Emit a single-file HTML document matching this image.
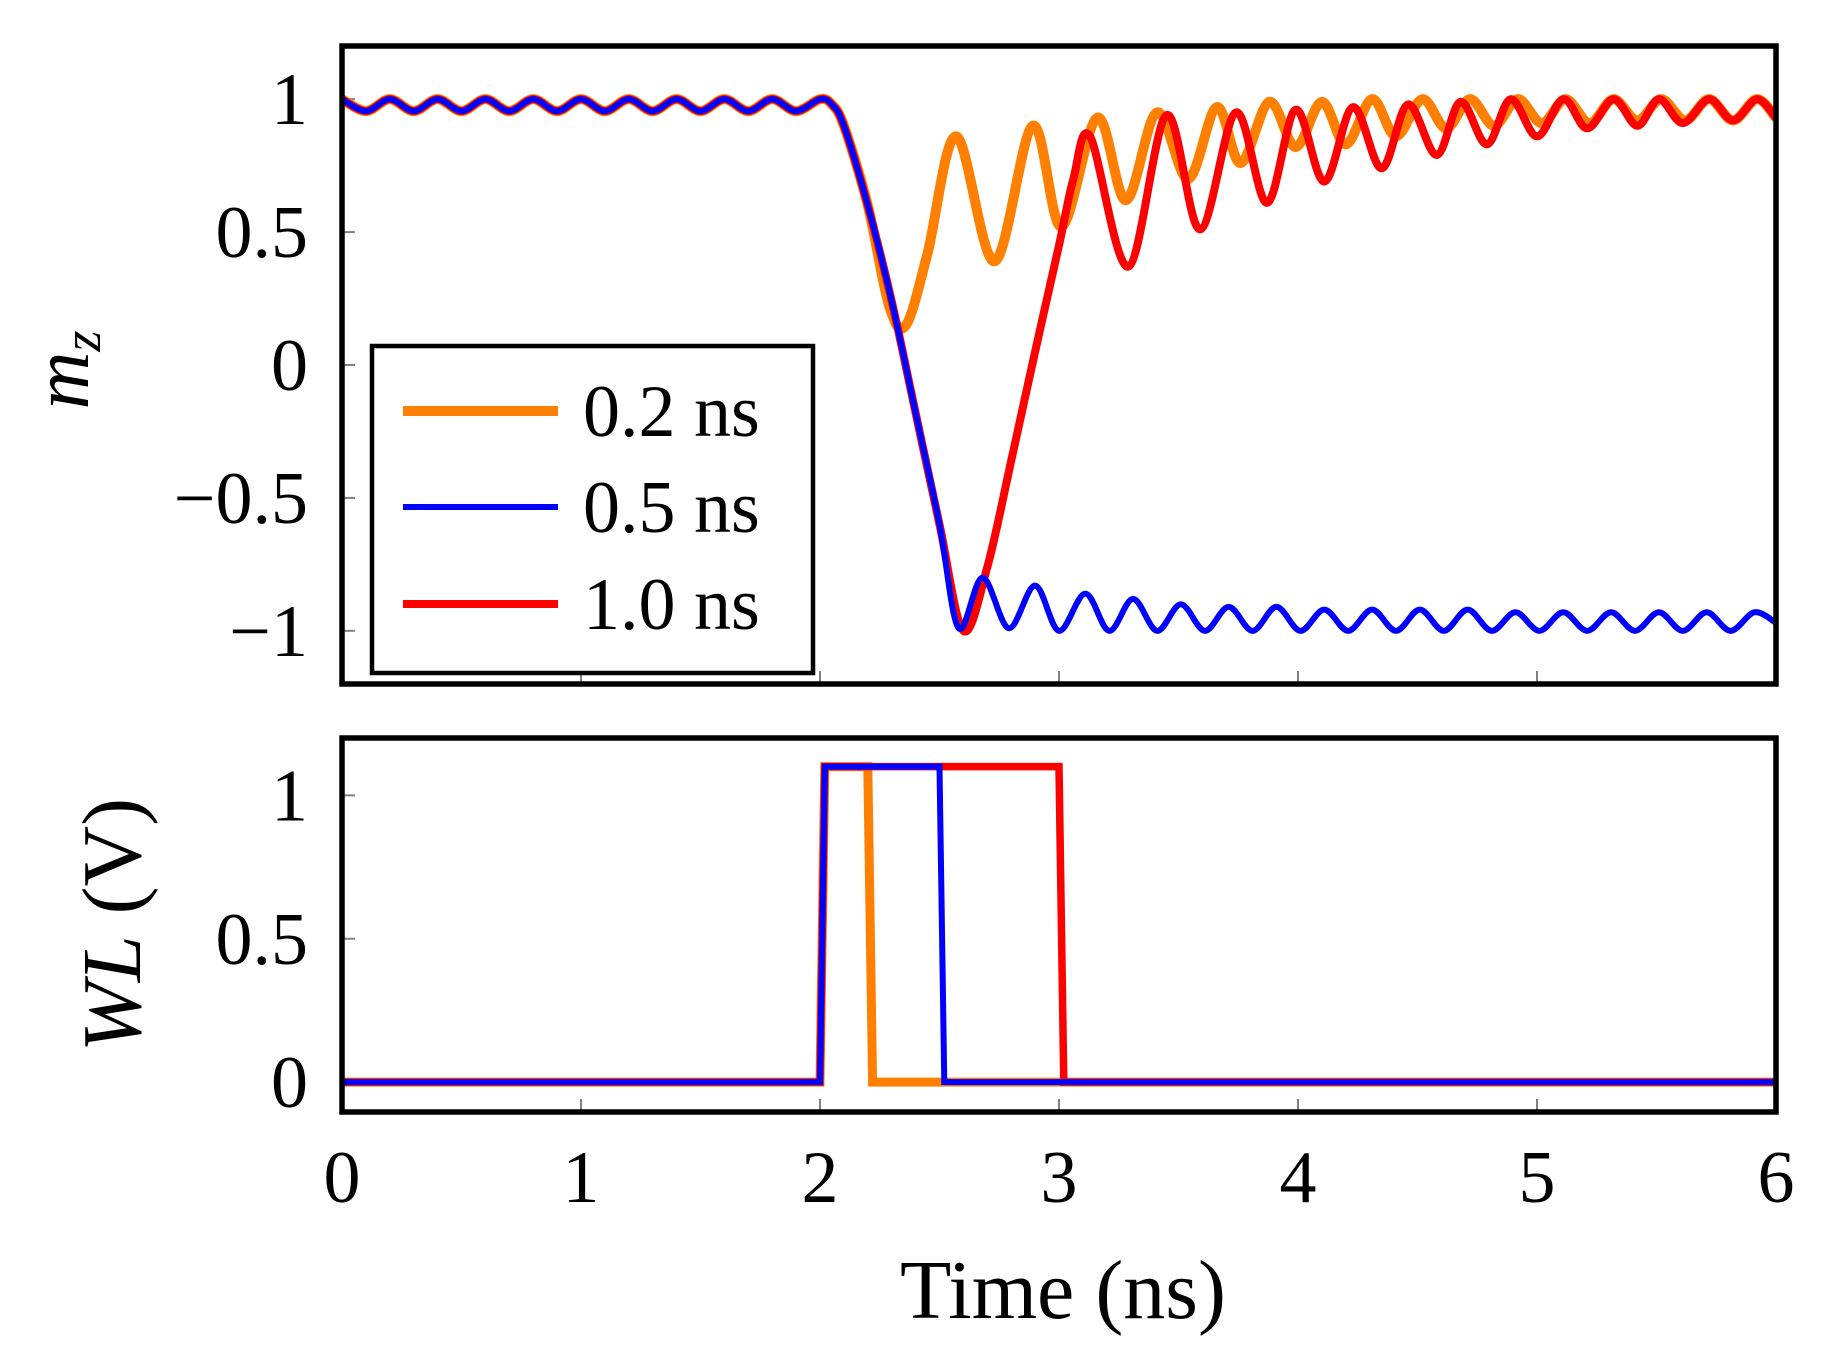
<!DOCTYPE html>
<html><head><meta charset="utf-8"><style>
html,body{margin:0;padding:0;background:#fff;}
svg{display:block;}
text{font-family:"Liberation Serif",serif;fill:#000;}
</style></head><body>
<svg id="chart" width="1833" height="1362" viewBox="0 0 1833 1362" xmlns="http://www.w3.org/2000/svg">
<g id="top"></g>
<g id="bot"></g>
</svg>
<script>
// ---- data ----
const xTicks = [0,1,2,3,4,5,6];
const mzTicks = [-1,-0.5,0,0.5,1];
const mzTickLabels = ["\u22121","\u22120.5","0","0.5","1"];
const wlTicks = [0,0.5,1];
const wlTickLabels = ["0","0.5","1"];
const seriesNames = ["0.2 ns","0.5 ns","1.0 ns"];
// shared precessional part before the pulse (t, mz)
const preT = [0,0.1,0.2,0.3,0.4,0.5,0.6,0.7,0.8,0.9,1.0,1.1,1.2,1.3,1.4,1.5,1.6,1.7,1.8,1.9,2.0];
const preMz = [1,0.955,1,0.955,1,0.955,1,0.955,1,0.955,1,0.955,1,0.955,1,0.955,1,0.955,1,0.955,1];
// common descent
const descT = [2.05,2.1,2.2,2.3,2.4,2.5];
const descMz = [0.98,0.9,0.6,0.24,-0.18,-0.6];
// 0.2 ns series after 2.2 ns
const orT = [2.29,2.36,2.45,2.57,2.73,2.89,3.01,3.16,3.28,3.41,3.54,3.66,3.76,3.88,3.99,4.10,4.20,4.31,4.41,4.52,4.62,4.72,4.82,4.92,5.02,5.12,5.22,5.32,5.42,5.52,5.62,5.72,5.82,5.92,6.0];
const orMz = [0.22,0.15,0.42,0.86,0.39,0.90,0.52,0.93,0.62,0.95,0.70,0.97,0.76,0.99,0.82,0.99,0.83,1.0,0.86,1.0,0.89,1.0,0.9,1.0,0.91,1.0,0.91,1.0,0.92,1.0,0.92,1.0,0.92,1.0,0.93];
// 0.5 ns series after descent
const blT = [2.58,2.68,2.79,2.90,3.0,3.11,3.21,3.31,3.41,3.51,3.61,3.71,3.81,3.91,4.01,4.11,4.21,4.31,4.41,4.51,4.61,4.71,4.81,4.91,5.01,5.11,5.21,5.31,5.41,5.51,5.61,5.71,5.81,5.91,6.0];
const blMz = [-0.99,-0.80,-0.99,-0.83,-1.0,-0.86,-1.0,-0.88,-1.0,-0.9,-1.0,-0.91,-1.0,-0.91,-1.0,-0.92,-1.0,-0.92,-1.0,-0.92,-1.0,-0.92,-1.0,-0.93,-1.0,-0.93,-1.0,-0.93,-1.0,-0.93,-1.0,-0.93,-1.0,-0.93,-0.97];
// 1.0 ns series after descent
const rdT = [2.6,2.7,2.8,2.9,3.0,3.06,3.13,3.29,3.45,3.59,3.74,3.87,3.99,4.11,4.23,4.35,4.46,4.58,4.68,4.79,4.89,5.0,5.11,5.21,5.32,5.42,5.51,5.61,5.72,5.82,5.92,6.0];
const rdMz = [-1.0,-0.76,-0.36,0.05,0.45,0.70,0.86,0.37,0.94,0.51,0.95,0.61,0.96,0.69,0.97,0.74,0.98,0.79,0.99,0.83,1.0,0.86,1.0,0.89,1.0,0.9,1.0,0.91,1.0,0.92,1.0,0.93];
// word-line pulses
const wlOrT = [0,2.0,2.02,2.2,2.22,6];
const wlOrV = [0,0,1.1,1.1,0,0];
const wlBlT = [0,2.0,2.02,2.5,2.52,6];
const wlBlV = [0,0,1.1,1.1,0,0];
const wlRdT = [0,2.0,2.02,3.0,3.02,6];
const wlRdV = [0,0,1.1,1.1,0,0];

// ---- layout ----
const NS="http://www.w3.org/2000/svg";
const X0=342,X1=1776;
const T_Y0=46,T_Y1=684, T_MIN=-1.2,T_MAX=1.2;
const B_Y0=738,B_Y1=1112, B_MIN=-0.104,B_MAX=1.2;
const xS=t=>X0+(t/6)*(X1-X0);
const yT=v=>T_Y1-(v-T_MIN)/(T_MAX-T_MIN)*(T_Y1-T_Y0);
const yB=v=>B_Y1-(v-B_MIN)/(B_MAX-B_MIN)*(B_Y1-B_Y0);
function mk(tag,attrs,parent){const e=document.createElementNS(NS,tag);for(const k in attrs)e.setAttribute(k,attrs[k]);parent.appendChild(e);return e;}
function smooth(pts){
  let d="M"+pts[0][0]+","+pts[0][1];
  for(let i=0;i<pts.length-1;i++){
    const p0=pts[Math.max(0,i-1)],p1=pts[i],p2=pts[i+1],p3=pts[Math.min(pts.length-1,i+2)];
    const c1x=p1[0]+(p2[0]-p0[0])/6,c1y=p1[1]+(p2[1]-p0[1])/6;
    const c2x=p2[0]-(p3[0]-p1[0])/6,c2y=p2[1]-(p3[1]-p1[1])/6;
    d+=" C"+c1x+","+c1y+" "+c2x+","+c2y+" "+p2[0]+","+p2[1];
  }
  return d;
}
const topG=document.getElementById('top'), botG=document.getElementById('bot');

// clip paths
const defs=mk('defs',{},document.getElementById('chart'));
const c1=mk('clipPath',{id:'ct'},defs); mk('rect',{x:X0,y:T_Y0,width:X1-X0,height:T_Y1-T_Y0},c1);
const c2=mk('clipPath',{id:'cb'},defs); mk('rect',{x:X0,y:B_Y0,width:X1-X0,height:B_Y1-B_Y0},c2);

// ticks
xTicks.forEach((t,i)=>{
  if(i>0&&i<xTicks.length-1){
    let e=mk('line',{x1:xS(t),x2:xS(t),y1:T_Y1,y2:T_Y1-13,stroke:'#808080','stroke-width':2},topG);
    
    
    e=mk('line',{x1:xS(t),x2:xS(t),y1:B_Y1,y2:B_Y1-13,stroke:'#808080','stroke-width':2},botG);
    
    
  }
  const tx=mk('text',{x:xS(t),y:1202,'font-size':74,'text-anchor':'middle'},botG);
  tx.textContent=t;
  
  
});
mzTicks.forEach((v,i)=>{
  let e=mk('line',{x1:X0,x2:X0+13,y1:yT(v),y2:yT(v),stroke:'#808080','stroke-width':2},topG);
  
  
  const tx=mk('text',{x:308,y:yT(v)+25,'font-size':74,'text-anchor':'end'},topG);
  tx.textContent=mzTickLabels[i];
  
  
});
wlTicks.forEach((v,i)=>{
  let e=mk('line',{x1:X0,x2:X0+13,y1:yB(v),y2:yB(v),stroke:'#808080','stroke-width':2},botG);
  
  
  const tx=mk('text',{x:308,y:yB(v)+25,'font-size':74,'text-anchor':'end'},botG);
  tx.textContent=wlTickLabels[i];
  
  
});

// mz series
function ptsOf(ts,vs){return ts.map((t,i)=>[xS(t),yT(vs[i])]);}
const pre=ptsOf(preT,preMz), desc=ptsOf(descT,descMz);
const gT=mk('g',{'clip-path':'url(#ct)'},topG);
const orPath=mk('path',{d:smooth(pre.concat(desc.slice(0,3),ptsOf(orT,orMz))),fill:'none',stroke:'#ff8000','stroke-width':10,'stroke-linejoin':'round'},gT);


const rdPath=mk('path',{d:smooth(pre.concat(desc,ptsOf(rdT,rdMz))),fill:'none',stroke:'#ff0000','stroke-width':8,'stroke-linejoin':'round'},gT);


const blPath=mk('path',{d:smooth(pre.concat(desc,ptsOf(blT,blMz))),fill:'none',stroke:'#0000ff','stroke-width':6,'stroke-linejoin':'round'},gT);



// wl series
function poly(ts,vs){return ts.map((t,i)=>xS(t)+","+yB(vs[i])).join(" ");}
const gB=mk('g',{'clip-path':'url(#cb)'},botG);
let w=mk('polyline',{points:poly(wlOrT,wlOrV),fill:'none',stroke:'#ff8000','stroke-width':9},gB);


w=mk('polyline',{points:poly(wlRdT,wlRdV),fill:'none',stroke:'#ff0000','stroke-width':7.5},gB);


w=mk('polyline',{points:poly(wlBlT,wlBlV),fill:'none',stroke:'#0000ff','stroke-width':6},gB);



// frames
let f=mk('rect',{x:X0,y:T_Y0,width:X1-X0,height:T_Y1-T_Y0,fill:'none',stroke:'#000','stroke-width':5.5},topG);


f=mk('rect',{x:X0,y:B_Y0,width:X1-X0,height:B_Y1-B_Y0,fill:'none',stroke:'#000','stroke-width':5.5},botG);



// legend
const lg=mk('g',{},topG);


let lb=mk('rect',{x:372,y:346,width:441,height:327,fill:'#fff',stroke:'#000','stroke-width':4.5},lg);


const lgColors=['#ff8000','#0000ff','#ff0000'], lgW=[10,6,8], lgY=[411,507,604];
seriesNames.forEach((n,i)=>{
  const ln=mk('line',{x1:403,x2:558,y1:lgY[i],y2:lgY[i],stroke:lgColors[i],'stroke-width':lgW[i]},lg);
  
  
  const tx=mk('text',{x:583,y:lgY[i]+25,'font-size':74},lg);
  tx.textContent=n;
  
  
});

// axis titles
let t=mk('text',{x:1063,y:1318,'font-size':84,'text-anchor':'middle'},botG);
t.textContent='Time (ns)';


t=mk('text',{transform:'translate(88,370) rotate(-90)','font-size':80,'text-anchor':'middle','font-style':'italic'},topG);
t.innerHTML='m<tspan font-size="54" dy="12">z</tspan>';


t=mk('text',{transform:'translate(140,925) rotate(-90)','font-size':84,'text-anchor':'middle'},botG);
t.innerHTML='<tspan font-style="italic">WL</tspan> (V)';


</script>
</body></html>
